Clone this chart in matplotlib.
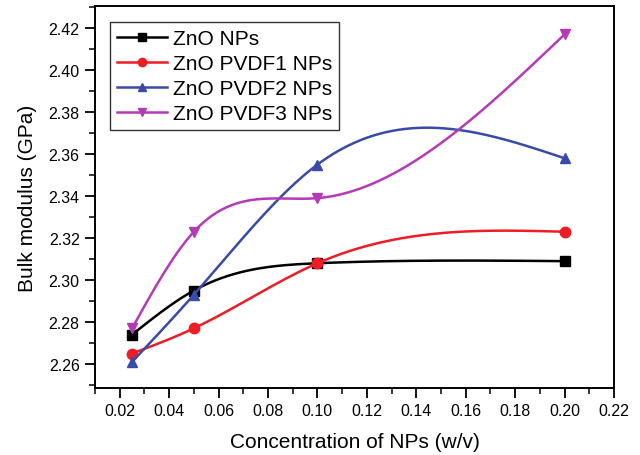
import numpy as np
import matplotlib.pyplot as plt
from matplotlib.ticker import MultipleLocator, FormatStrFormatter

plt.rcParams['font.family'] = ['Liberation Sans', 'DejaVu Sans']

# ===== DATA =====
conc = [0.025, 0.05, 0.10, 0.20]
zno = [2.274, 2.295, 2.308, 2.309]
pvdf1 = [2.265, 2.277, 2.308, 2.323]
pvdf2 = [2.261, 2.293, 2.355, 2.358]
pvdf3 = [2.277, 2.323, 2.339, 2.417]

labels = ["ZnO NPs", "ZnO PVDF1 NPs", "ZnO PVDF2 NPs", "ZnO PVDF3 NPs"]
colors = ["#000000", "#ee1c25", "#3a4aa8", "#b53ab8"]
markers = ["s", "o", "^", "v"]


def natural_spline(x, y, n=200):
    # natural cubic spline, same idea as Origin's "Spline" connect
    x = np.asarray(x, float)
    y = np.asarray(y, float)
    k = len(x)
    h = np.diff(x)
    A = np.zeros((k, k))
    b = np.zeros(k)
    A[0, 0] = 1
    A[-1, -1] = 1
    for i in range(1, k - 1):
        A[i, i - 1] = h[i - 1]
        A[i, i] = 2 * (h[i - 1] + h[i])
        A[i, i + 1] = h[i]
        b[i] = 3 * ((y[i + 1] - y[i]) / h[i] - (y[i] - y[i - 1]) / h[i - 1])
    c = np.linalg.solve(A, b)
    xs = np.linspace(x[0], x[-1], n)
    ys = np.empty_like(xs)
    for j, xv in enumerate(xs):
        i = min(np.searchsorted(x, xv, side='right') - 1, k - 2)
        d = (c[i + 1] - c[i]) / (3 * h[i])
        bb = (y[i + 1] - y[i]) / h[i] - h[i] * (2 * c[i] + c[i + 1]) / 3
        t = xv - x[i]
        ys[j] = y[i] + bb * t + c[i] * t ** 2 + d * t ** 3
    return xs, ys


fig = plt.figure(figsize=(6.4, 4.56), dpi=100)
ax = fig.add_axes([0.1484, 0.147, 0.811, 0.8376])

for vals, lab, col, mk in zip([zno, pvdf1, pvdf2, pvdf3], labels, colors, markers):
    xs, ys = natural_spline(conc, vals)
    ax.plot(xs, ys, color=col, linewidth=1.8)
    ax.plot(conc, vals, linestyle='none', marker=mk, color=col, markersize=7.5)
    # legend proxy
    ax.plot([], [], color=col, linewidth=1.8, marker=mk, markersize=6, label=lab)

ax.set_xlim(0.01, 0.22)
ax.set_ylim(2.2486, 2.4305)
ax.xaxis.set_minor_locator(MultipleLocator(0.01))
ax.yaxis.set_minor_locator(MultipleLocator(0.01))
ax.xaxis.set_major_formatter(FormatStrFormatter('%.2f'))
ax.yaxis.set_major_formatter(FormatStrFormatter('%.2f'))
ax.set_xticks(np.arange(0.02, 0.2201, 0.02))
ax.set_yticks(np.arange(2.26, 2.4201, 0.02))

ax.tick_params(which='major', direction='out', length=7, width=1.3, labelsize=11.5, pad=4,
               top=False, right=False)
ax.tick_params(which='minor', direction='out', length=4, width=1.1, top=False, right=False)
for s in ax.spines.values():
    s.set_linewidth(1.4)

ax.set_xlabel("Concentration of NPs (w/v)", fontsize=15, labelpad=10)
ax.set_ylabel("Bulk modulus (GPa)", fontsize=15, labelpad=8)

leg = ax.legend(loc='upper left', bbox_to_anchor=(0.029, 0.958), fontsize=15,
                frameon=True, fancybox=False, handlelength=2.4, borderpad=0.35,
                borderaxespad=0, labelspacing=0.28, handletextpad=0.25)
leg.get_frame().set_edgecolor('black')
leg.get_frame().set_linewidth(1.0)

plt.savefig("out.png", dpi=100)
